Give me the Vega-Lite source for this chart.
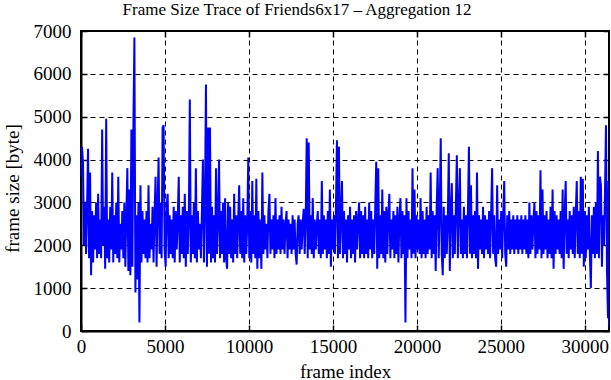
{
  "$schema": "https://vega.github.io/schema/vega-lite/v6.json",
  "width": 528,
  "height": 300,
  "autosize": {"type": "none"},
  "padding": {"left": 81, "top": 31, "right": 2, "bottom": 49},
  "background": "white",
  "config": {
    "view": {"stroke": "black", "strokeWidth": 2},
    "font": "Liberation Serif",
    "axis": {
      "labelFont": "Liberation Serif",
      "titleFont": "Liberation Serif",
      "labelFontSize": 19,
      "titleFontSize": 19,
      "titleFontWeight": "normal",
      "labelColor": "black",
      "titleColor": "black",
      "domainColor": "black",
      "domainWidth": 2,
      "tickColor": "black",
      "tickWidth": 1.5,
      "gridColor": "black",
      "gridDash": [5, 4],
      "gridWidth": 1,
      "gridOpacity": 1
    }
  },
  "title": {
    "text": "Frame Size Trace of Friends6x17 – Aggregation 12",
    "font": "Liberation Serif",
    "fontSize": 17,
    "fontWeight": "normal",
    "color": "black",
    "anchor": "middle",
    "dx": -48,
    "offset": 3
  },
  "resolve": {"axis": {"x": "independent", "y": "independent"}},
  "data": {
    "values": [
      {"x":0,"y":3600},{"x":60,"y":4300},{"x":120,"y":3900},{"x":180,"y":2000},{"x":240,"y":3000},{"x":300,"y":1800},{"x":360,"y":2900},{"x":420,"y":4250},{"x":480,"y":1700},{"x":540,"y":3700},
      {"x":600,"y":1300},{"x":660,"y":2800},{"x":720,"y":1600},{"x":780,"y":2700},{"x":840,"y":1900},{"x":900,"y":3000},{"x":960,"y":1700},{"x":1020,"y":3200},{"x":1080,"y":1800},{"x":1140,"y":2600},
      {"x":1200,"y":1700},{"x":1260,"y":4700},{"x":1320,"y":2000},{"x":1380,"y":2900},{"x":1440,"y":1450},{"x":1500,"y":4950},{"x":1560,"y":1700},{"x":1620,"y":2600},{"x":1680,"y":1600},{"x":1740,"y":2900},
      {"x":1800,"y":1900},{"x":1860,"y":3700},{"x":1920,"y":1600},{"x":1980,"y":2700},{"x":2040,"y":1800},{"x":2100,"y":3000},{"x":2160,"y":1700},{"x":2220,"y":3600},{"x":2280,"y":1600},{"x":2340,"y":2500},
      {"x":2400,"y":1900},{"x":2460,"y":2800},{"x":2520,"y":1700},{"x":2580,"y":3000},{"x":2640,"y":1500},{"x":2700,"y":2700},{"x":2760,"y":3800},{"x":2820,"y":1400},{"x":2880,"y":3300},{"x":2940,"y":1300},
      {"x":3000,"y":4700},{"x":3060,"y":1500},{"x":3120,"y":4800},{"x":3180,"y":6850},{"x":3240,"y":900},{"x":3300,"y":2700},{"x":3360,"y":1200},{"x":3420,"y":3000},{"x":3480,"y":200},{"x":3540,"y":3400},
      {"x":3600,"y":1600},{"x":3660,"y":2800},{"x":3720,"y":1800},{"x":3780,"y":2600},{"x":3840,"y":1700},{"x":3900,"y":2800},{"x":3960,"y":1600},{"x":4020,"y":3400},{"x":4080,"y":1700},{"x":4140,"y":2500},
      {"x":4200,"y":1900},{"x":4260,"y":2900},{"x":4320,"y":1600},{"x":4380,"y":2700},{"x":4440,"y":3600},{"x":4500,"y":1500},{"x":4560,"y":2900},{"x":4620,"y":4050},{"x":4680,"y":1800},{"x":4740,"y":3000},
      {"x":4800,"y":1700},{"x":4860,"y":4750},{"x":4920,"y":4800},{"x":4980,"y":1900},{"x":5040,"y":1500},{"x":5100,"y":2900},{"x":5160,"y":3200},{"x":5220,"y":1700},{"x":5280,"y":2700},{"x":5340,"y":1800},
      {"x":5400,"y":2600},{"x":5460,"y":1700},{"x":5520,"y":2900},{"x":5580,"y":1600},{"x":5640,"y":2800},{"x":5700,"y":1900},{"x":5760,"y":2600},{"x":5820,"y":3600},{"x":5880,"y":1600},{"x":5940,"y":2700},
      {"x":6000,"y":1800},{"x":6060,"y":2900},{"x":6120,"y":1700},{"x":6180,"y":3200},{"x":6240,"y":1500},{"x":6300,"y":2800},{"x":6360,"y":1800},{"x":6420,"y":2600},{"x":6480,"y":5400},{"x":6540,"y":1600},
      {"x":6600,"y":2700},{"x":6660,"y":1800},{"x":6720,"y":3000},{"x":6780,"y":1700},{"x":6840,"y":3800},{"x":6900,"y":1600},{"x":6960,"y":2800},{"x":7020,"y":1900},{"x":7080,"y":2500},{"x":7140,"y":1700},
      {"x":7200,"y":2800},{"x":7260,"y":4000},{"x":7320,"y":1600},{"x":7380,"y":2900},{"x":7440,"y":5750},{"x":7500,"y":1500},{"x":7560,"y":4750},{"x":7620,"y":1800},{"x":7680,"y":4750},{"x":7740,"y":1600},
      {"x":7800,"y":2900},{"x":7860,"y":1700},{"x":7920,"y":2700},{"x":7980,"y":1600},{"x":8040,"y":3800},{"x":8100,"y":1800},{"x":8160,"y":2600},{"x":8220,"y":4000},{"x":8280,"y":1700},{"x":8340,"y":2800},
      {"x":8400,"y":1800},{"x":8460,"y":3000},{"x":8520,"y":1600},{"x":8580,"y":3100},{"x":8640,"y":1700},{"x":8700,"y":1450},{"x":8760,"y":3000},{"x":8820,"y":1800},{"x":8880,"y":2900},{"x":8940,"y":1700},
      {"x":9000,"y":2600},{"x":9060,"y":1600},{"x":9120,"y":3200},{"x":9180,"y":1800},{"x":9240,"y":2700},{"x":9300,"y":1700},{"x":9360,"y":2600},{"x":9420,"y":3400},{"x":9480,"y":1800},{"x":9540,"y":2800},
      {"x":9600,"y":1700},{"x":9660,"y":3100},{"x":9720,"y":1600},{"x":9780,"y":2700},{"x":9840,"y":1800},{"x":9900,"y":2500},{"x":9960,"y":4050},{"x":10020,"y":1700},{"x":10080,"y":2800},{"x":10140,"y":1600},
      {"x":10200,"y":3500},{"x":10260,"y":1800},{"x":10320,"y":2700},{"x":10380,"y":1700},{"x":10440,"y":3550},{"x":10500,"y":1450},{"x":10560,"y":2800},{"x":10620,"y":1700},{"x":10680,"y":2600},{"x":10740,"y":1450},
      {"x":10800,"y":3700},{"x":10860,"y":1800},{"x":10920,"y":2700},{"x":10980,"y":1900},{"x":11040,"y":2500},{"x":11100,"y":1700},{"x":11160,"y":2800},{"x":11220,"y":3200},{"x":11280,"y":1800},{"x":11340,"y":2600},
      {"x":11400,"y":1900},{"x":11460,"y":2700},{"x":11520,"y":1700},{"x":11580,"y":3100},{"x":11640,"y":1800},{"x":11700,"y":2600},{"x":11760,"y":1900},{"x":11820,"y":2700},{"x":11880,"y":1800},{"x":11940,"y":2900},
      {"x":12000,"y":1900},{"x":12060,"y":2600},{"x":12120,"y":1800},{"x":12180,"y":2500},{"x":12240,"y":2800},{"x":12300,"y":1700},{"x":12360,"y":2600},{"x":12420,"y":1900},{"x":12480,"y":2500},{"x":12540,"y":1800},
      {"x":12600,"y":2700},{"x":12660,"y":1900},{"x":12720,"y":2600},{"x":12780,"y":1800},{"x":12840,"y":1550},{"x":12900,"y":2500},{"x":12960,"y":2700},{"x":13020,"y":1800},{"x":13080,"y":2600},{"x":13140,"y":1900},
      {"x":13200,"y":2500},{"x":13260,"y":2850},{"x":13320,"y":1800},{"x":13380,"y":2600},{"x":13440,"y":4500},{"x":13500,"y":1700},{"x":13560,"y":4400},{"x":13620,"y":1900},{"x":13680,"y":2700},{"x":13740,"y":1800},
      {"x":13800,"y":3100},{"x":13860,"y":1700},{"x":13920,"y":2600},{"x":13980,"y":1900},{"x":14040,"y":2500},{"x":14100,"y":2800},{"x":14160,"y":1800},{"x":14220,"y":2600},{"x":14280,"y":1700},{"x":14340,"y":3500},
      {"x":14400,"y":1800},{"x":14460,"y":2700},{"x":14520,"y":1900},{"x":14580,"y":2600},{"x":14640,"y":1700},{"x":14700,"y":2800},{"x":14760,"y":1800},{"x":14820,"y":3300},{"x":14880,"y":1500},{"x":14940,"y":2600},
      {"x":15000,"y":1900},{"x":15060,"y":2700},{"x":15120,"y":1800},{"x":15180,"y":2900},{"x":15240,"y":4450},{"x":15300,"y":1700},{"x":15360,"y":4300},{"x":15420,"y":1800},{"x":15480,"y":2700},{"x":15540,"y":3500},
      {"x":15600,"y":1700},{"x":15660,"y":2800},{"x":15720,"y":1800},{"x":15780,"y":2600},{"x":15840,"y":1600},{"x":15900,"y":2700},{"x":15960,"y":1900},{"x":16020,"y":2900},{"x":16080,"y":1700},{"x":16140,"y":2600},
      {"x":16200,"y":1800},{"x":16260,"y":2700},{"x":16320,"y":1600},{"x":16380,"y":2800},{"x":16440,"y":1900},{"x":16500,"y":2600},{"x":16560,"y":3000},{"x":16620,"y":1700},{"x":16680,"y":2800},{"x":16740,"y":1800},
      {"x":16800,"y":2700},{"x":16860,"y":1700},{"x":16920,"y":2900},{"x":16980,"y":1800},{"x":17040,"y":2600},{"x":17100,"y":1700},{"x":17160,"y":3000},{"x":17220,"y":1900},{"x":17280,"y":2800},{"x":17340,"y":1700},
      {"x":17400,"y":2600},{"x":17460,"y":1800},{"x":17520,"y":2900},{"x":17580,"y":3950},{"x":17640,"y":1450},{"x":17700,"y":3800},{"x":17760,"y":1700},{"x":17820,"y":2700},{"x":17880,"y":1800},{"x":17940,"y":3300},
      {"x":18000,"y":1700},{"x":18060,"y":2800},{"x":18120,"y":1600},{"x":18180,"y":2900},{"x":18240,"y":1800},{"x":18300,"y":2700},{"x":18360,"y":3200},{"x":18420,"y":1700},{"x":18480,"y":2600},{"x":18540,"y":1900},
      {"x":18600,"y":2800},{"x":18660,"y":1700},{"x":18720,"y":2700},{"x":18780,"y":1800},{"x":18840,"y":2900},{"x":18900,"y":1600},{"x":18960,"y":2600},{"x":19020,"y":3100},{"x":19080,"y":1700},{"x":19140,"y":2800},
      {"x":19200,"y":1800},{"x":19260,"y":2700},{"x":19320,"y":200},{"x":19380,"y":3100},{"x":19440,"y":1700},{"x":19500,"y":2800},{"x":19560,"y":1900},{"x":19620,"y":2600},{"x":19680,"y":1700},{"x":19740,"y":3800},
      {"x":19800,"y":1800},{"x":19860,"y":3300},{"x":19920,"y":1700},{"x":19980,"y":2700},{"x":20040,"y":1900},{"x":20100,"y":2600},{"x":20160,"y":1800},{"x":20220,"y":3100},{"x":20280,"y":1700},{"x":20340,"y":2800},
      {"x":20400,"y":1800},{"x":20460,"y":2600},{"x":20520,"y":1700},{"x":20580,"y":2900},{"x":20640,"y":1800},{"x":20700,"y":2700},{"x":20760,"y":1900},{"x":20820,"y":3700},{"x":20880,"y":1700},{"x":20940,"y":2800},
      {"x":21000,"y":1800},{"x":21060,"y":2700},{"x":21120,"y":1400},{"x":21180,"y":2900},{"x":21240,"y":3800},{"x":21300,"y":1700},{"x":21360,"y":2800},{"x":21420,"y":4500},{"x":21480,"y":1800},{"x":21540,"y":1300},
      {"x":21600,"y":2900},{"x":21660,"y":1700},{"x":21720,"y":2700},{"x":21780,"y":1800},{"x":21840,"y":2600},{"x":21900,"y":4150},{"x":21960,"y":1400},{"x":22020,"y":2800},{"x":22080,"y":3450},{"x":22140,"y":1700},
      {"x":22200,"y":2700},{"x":22260,"y":1800},{"x":22320,"y":2900},{"x":22380,"y":4100},{"x":22440,"y":1700},{"x":22500,"y":2800},{"x":22560,"y":3800},{"x":22620,"y":1800},{"x":22680,"y":2600},{"x":22740,"y":1700},
      {"x":22800,"y":2900},{"x":22860,"y":1800},{"x":22920,"y":2700},{"x":22980,"y":1700},{"x":23040,"y":2800},{"x":23100,"y":4300},{"x":23160,"y":1800},{"x":23220,"y":3400},{"x":23280,"y":1700},{"x":23340,"y":2700},
      {"x":23400,"y":1800},{"x":23460,"y":2800},{"x":23520,"y":1700},{"x":23580,"y":3700},{"x":23640,"y":1450},{"x":23700,"y":2700},{"x":23760,"y":1900},{"x":23820,"y":2600},{"x":23880,"y":1800},{"x":23940,"y":2900},
      {"x":24000,"y":1700},{"x":24060,"y":2700},{"x":24120,"y":1900},{"x":24180,"y":2600},{"x":24240,"y":1800},{"x":24300,"y":2800},{"x":24360,"y":1700},{"x":24420,"y":2700},{"x":24480,"y":3800},{"x":24540,"y":1800},
      {"x":24600,"y":2700},{"x":24660,"y":1700},{"x":24720,"y":1500},{"x":24780,"y":3400},{"x":24840,"y":1800},{"x":24900,"y":2600},{"x":24960,"y":1900},{"x":25020,"y":2800},{"x":25080,"y":1700},{"x":25140,"y":2700},
      {"x":25200,"y":3500},{"x":25260,"y":1800},{"x":25320,"y":1500},{"x":25380,"y":2700},{"x":25440,"y":1900},{"x":25500,"y":2800},{"x":25560,"y":1800},{"x":25620,"y":2600},{"x":25680,"y":1900},{"x":25740,"y":2700},
      {"x":25800,"y":1800},{"x":25860,"y":2600},{"x":25920,"y":1900},{"x":25980,"y":2700},{"x":26040,"y":1800},{"x":26100,"y":2600},{"x":26160,"y":1900},{"x":26220,"y":2700},{"x":26280,"y":1800},{"x":26340,"y":2600},
      {"x":26400,"y":1900},{"x":26460,"y":2700},{"x":26520,"y":1800},{"x":26580,"y":2600},{"x":26640,"y":1700},{"x":26700,"y":3000},{"x":26760,"y":1800},{"x":26820,"y":2700},{"x":26880,"y":1900},{"x":26940,"y":2600},
      {"x":27000,"y":3000},{"x":27060,"y":1700},{"x":27120,"y":2800},{"x":27180,"y":1800},{"x":27240,"y":2700},{"x":27300,"y":1900},{"x":27360,"y":3750},{"x":27420,"y":1700},{"x":27480,"y":3300},{"x":27540,"y":1800},
      {"x":27600,"y":2700},{"x":27660,"y":1900},{"x":27720,"y":2800},{"x":27780,"y":1700},{"x":27840,"y":2600},{"x":27900,"y":1800},{"x":27960,"y":2900},{"x":28020,"y":1700},{"x":28080,"y":3300},{"x":28140,"y":1450},
      {"x":28200,"y":2800},{"x":28260,"y":1800},{"x":28320,"y":2700},{"x":28380,"y":1900},{"x":28440,"y":2600},{"x":28500,"y":1800},{"x":28560,"y":2800},{"x":28620,"y":1700},{"x":28680,"y":3300},{"x":28740,"y":1450},
      {"x":28800,"y":2700},{"x":28860,"y":3500},{"x":28920,"y":1800},{"x":28980,"y":2600},{"x":29040,"y":1700},{"x":29100,"y":2800},{"x":29160,"y":1900},{"x":29220,"y":2700},{"x":29280,"y":1800},{"x":29340,"y":2900},
      {"x":29400,"y":1700},{"x":29460,"y":2700},{"x":29520,"y":3500},{"x":29580,"y":1800},{"x":29640,"y":2800},{"x":29700,"y":1700},{"x":29760,"y":3600},{"x":29820,"y":1800},{"x":29880,"y":3550},{"x":29940,"y":1500},
      {"x":30000,"y":2800},{"x":30060,"y":1700},{"x":30120,"y":2700},{"x":30180,"y":1900},{"x":30240,"y":2900},{"x":30300,"y":1800},{"x":30360,"y":1000},{"x":30420,"y":2700},{"x":30480,"y":1800},{"x":30540,"y":2900},
      {"x":30600,"y":1700},{"x":30660,"y":3000},{"x":30720,"y":1800},{"x":30780,"y":4200},{"x":30840,"y":1700},{"x":30900,"y":3600},{"x":30960,"y":3400},{"x":31020,"y":1500},{"x":31080,"y":2700},{"x":31140,"y":2000},
      {"x":31200,"y":3200},{"x":31260,"y":4800},{"x":31320,"y":1400},{"x":31380,"y":300},{"x":31410,"y":3500},{"x":31440,"y":100}
    ]
  },
  "layer": [
    {
      "mark": {"type": "line", "color": "#0000ff", "strokeWidth": 2, "clip": true},
      "encoding": {
        "x": {
          "field": "x", "type": "quantitative",
          "scale": {"domain": [0, 31440], "nice": false, "zero": false},
          "axis": {"values": [0, 5000, 10000, 15000, 20000, 25000, 30000], "format": "d", "title": "frame index", "grid": true, "tickSize": -6, "labelPadding": 12, "titlePadding": 6, "labelFlush": false}
        },
        "y": {
          "field": "y", "type": "quantitative",
          "scale": {"domain": [0, 7000], "nice": false},
          "axis": {"values": [0, 1000, 2000, 3000, 4000, 5000, 6000, 7000], "format": "d", "title": "frame size [byte]", "grid": true, "tickSize": -6, "labelPadding": 16, "titlePadding": 11, "titleY": 157, "labelFlush": false}
        }
      }
    },
    {
      "mark": {"type": "line", "opacity": 0, "clip": true},
      "encoding": {
        "x": {
          "field": "x", "type": "quantitative",
          "axis": {"orient": "top", "values": [0, 5000, 10000, 15000, 20000, 25000, 30000], "labels": false, "title": null, "grid": false, "domain": false, "tickSize": -6}
        },
        "y": {
          "field": "y", "type": "quantitative",
          "axis": {"orient": "right", "values": [0, 1000, 2000, 3000, 4000, 5000, 6000, 7000], "labels": false, "title": null, "grid": false, "domain": false, "tickSize": -6}
        }
      }
    }
  ]
}
